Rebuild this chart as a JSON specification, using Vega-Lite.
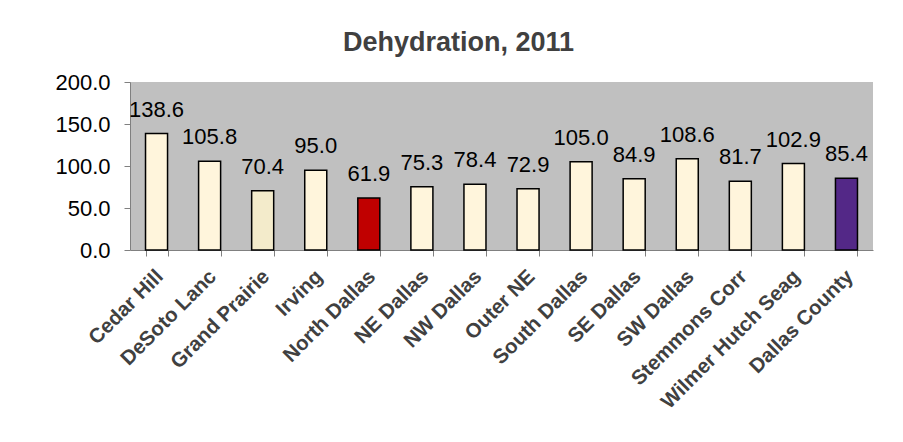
{
  "$schema": "https://vega.github.io/schema/vega-lite/v6.json",
  "width": 743,
  "height": 168,
  "autosize": {"type": "none"},
  "padding": {"left": 130, "top": 82, "right": 30, "bottom": 192},
  "background": "white",
  "config": {
    "view": {"fill": "#C0C0C0", "stroke": null},
    "font": "Liberation Sans"
  },
  "title": {
    "text": "Dehydration, 2011",
    "font": "Liberation Sans",
    "fontSize": 27,
    "fontWeight": "bold",
    "color": "#404040",
    "anchor": "middle",
    "frame": "group",
    "dx": -43,
    "offset": 14
  },
  "data": {
    "values": [
      {"Region": "Cedar Hill", "Rate": 138.6},
      {"Region": "DeSoto Lanc", "Rate": 105.8},
      {"Region": "Grand Prairie", "Rate": 70.4},
      {"Region": "Irving", "Rate": 95.0},
      {"Region": "North Dallas", "Rate": 61.9},
      {"Region": "NE Dallas", "Rate": 75.3},
      {"Region": "NW Dallas", "Rate": 78.4},
      {"Region": "Outer NE", "Rate": 72.9},
      {"Region": "South Dallas", "Rate": 105.0},
      {"Region": "SE Dallas", "Rate": 84.9},
      {"Region": "SW Dallas", "Rate": 108.6},
      {"Region": "Stemmons Corr", "Rate": 81.7},
      {"Region": "Wilmer Hutch Seag", "Rate": 102.9},
      {"Region": "Dallas County", "Rate": 85.4}
    ]
  },
  "encoding": {
    "x": {
      "field": "Region",
      "type": "nominal",
      "sort": null,
      "scale": {"paddingInner": 0.585, "paddingOuter": 0.2925},
      "axis": {
        "title": null,
        "labelAngle": -45,
        "labelAlign": "right",
        "labelBaseline": "top",
        "labelFont": "Liberation Sans",
        "labelFontSize": 20.5,
        "labelFontWeight": "bold",
        "labelColor": "#404040",
        "labelPadding": 10,
        "labelOffset": -4,
        "labelLimit": 400,
        "domainColor": "#808080",
        "tickColor": "#808080",
        "tickSize": 6,
        "tickBand": "extent",
        "labelOverlap": false
      }
    },
    "y": {
      "field": "Rate",
      "type": "quantitative",
      "scale": {"domain": [0, 200], "nice": false},
      "axis": {
        "title": null,
        "values": [0, 50, 100, 150, 200],
        "format": ".1f",
        "grid": false,
        "ticks": true,
        "labelFont": "Liberation Sans",
        "labelFontSize": 22,
        "labelColor": "#000000",
        "labelAlign": "right",
        "labelBaseline": "middle",
        "labelPadding": 14,
        "domainColor": "#808080",
        "tickColor": "#808080",
        "tickSize": 6
      }
    }
  },
  "layer": [
    {
      "mark": {"type": "bar", "stroke": "#000000", "strokeWidth": 1.5},
      "encoding": {
        "color": {
          "field": "Region",
          "type": "nominal",
          "legend": null,
          "scale": {
            "domain": ["Cedar Hill", "DeSoto Lanc", "Grand Prairie", "Irving", "North Dallas", "NE Dallas", "NW Dallas", "Outer NE", "South Dallas", "SE Dallas", "SW Dallas", "Stemmons Corr", "Wilmer Hutch Seag", "Dallas County"],
            "range": ["#FFF5DC", "#FFF5DC", "#F3EBCB", "#FFF5DC", "#C00000", "#FFF5DC", "#FFF5DC", "#FFF5DC", "#FFF5DC", "#FFF5DC", "#FFF5DC", "#FFF5DC", "#FFF5DC", "#532887"]
          }
        }
      }
    },
    {
      "mark": {"type": "text", "font": "Liberation Sans", "fontSize": 22, "color": "#000000", "baseline": "alphabetic", "align": "center", "dy": -17},
      "encoding": {
        "text": {"field": "Rate", "type": "quantitative", "format": ".1f"}
      }
    }
  ]
}
